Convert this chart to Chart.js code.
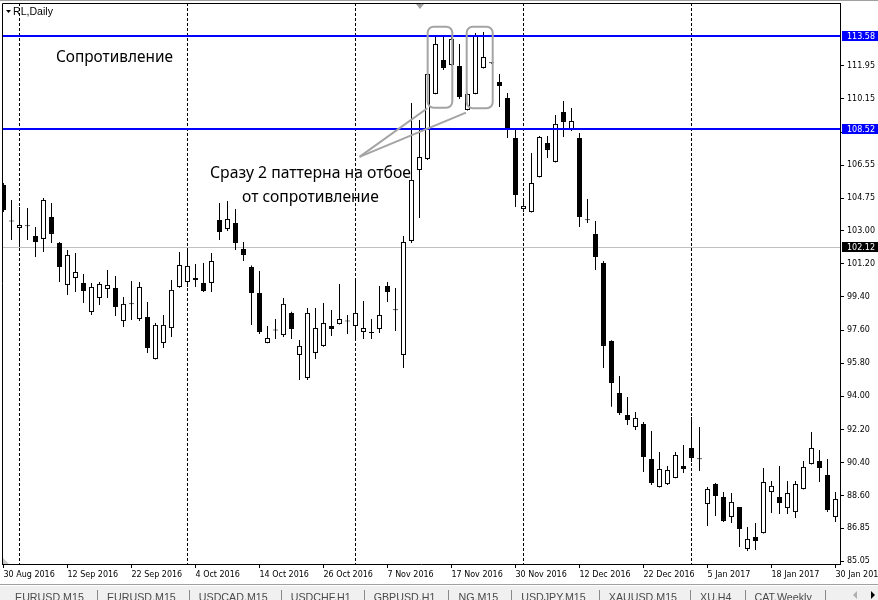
<!DOCTYPE html>
<html><head><meta charset="utf-8">
<script src="https://cdn.jsdelivr.net/npm/chart.js@4.4.1/dist/chart.umd.min.js"></script>
<style>html,body{margin:0;padding:0;background:#fff;overflow:hidden}canvas{display:block}</style>
</head><body>
<canvas id="c" width="878" height="600"></canvas>
<script>
// ---------- DATA ----------
const dates = [
"30 Aug 2016","31 Aug 2016","1 Sep 2016","2 Sep 2016","6 Sep 2016","7 Sep 2016","8 Sep 2016","9 Sep 2016",
"12 Sep 2016","13 Sep 2016","14 Sep 2016","15 Sep 2016","16 Sep 2016","19 Sep 2016","20 Sep 2016","21 Sep 2016",
"22 Sep 2016","23 Sep 2016","26 Sep 2016","27 Sep 2016","28 Sep 2016","29 Sep 2016","30 Sep 2016","3 Oct 2016",
"4 Oct 2016","5 Oct 2016","6 Oct 2016","7 Oct 2016","10 Oct 2016","11 Oct 2016","12 Oct 2016","13 Oct 2016",
"14 Oct 2016","17 Oct 2016","18 Oct 2016","19 Oct 2016","20 Oct 2016","21 Oct 2016","24 Oct 2016","25 Oct 2016",
"26 Oct 2016","27 Oct 2016","28 Oct 2016","31 Oct 2016","1 Nov 2016","2 Nov 2016","3 Nov 2016","4 Nov 2016",
"7 Nov 2016","8 Nov 2016","9 Nov 2016","10 Nov 2016","11 Nov 2016","14 Nov 2016","15 Nov 2016","16 Nov 2016",
"17 Nov 2016","18 Nov 2016","21 Nov 2016","22 Nov 2016","23 Nov 2016","25 Nov 2016","28 Nov 2016","29 Nov 2016",
"30 Nov 2016","1 Dec 2016","2 Dec 2016","5 Dec 2016","6 Dec 2016","7 Dec 2016","8 Dec 2016","9 Dec 2016",
"12 Dec 2016","13 Dec 2016","14 Dec 2016","15 Dec 2016","16 Dec 2016","19 Dec 2016","20 Dec 2016","21 Dec 2016",
"22 Dec 2016","23 Dec 2016","27 Dec 2016","28 Dec 2016","29 Dec 2016","30 Dec 2016","3 Jan 2017","4 Jan 2017",
"5 Jan 2017","6 Jan 2017","9 Jan 2017","10 Jan 2017","11 Jan 2017","12 Jan 2017","13 Jan 2017","17 Jan 2017",
"18 Jan 2017","19 Jan 2017","20 Jan 2017","23 Jan 2017","24 Jan 2017","25 Jan 2017","26 Jan 2017","27 Jan 2017",
"30 Jan 2017"];

const open = [
105.48,103.50,103.14,103.27,102.71,102.55,103.74,102.33,100.05,100.43,100.16,98.58,99.34,99.83,99.88,98.09,
99.00,98.20,98.31,96.03,96.90,97.71,99.94,100.21,100.43,100.16,100.16,103.58,103.09,103.41,102.00,101.02,
99.61,96.90,97.58,97.33,98.53,96.25,95.00,96.36,96.74,97.82,97.93,98.07,97.82,97.50,97.50,97.66,
99.99,98.67,96.25,102.44,106.29,106.89,110.42,112.26,111.99,111.94,109.55,110.42,111.83,112.10,111.07,110.20,
108.03,104.17,104.01,105.91,107.76,106.73,109.44,108.46,108.03,103.60,102.82,101.24,97.01,94.18,92.99,92.34,
92.50,90.60,89.08,89.24,89.57,90.22,91.20,90.60,88.16,89.24,88.54,87.45,87.99,85.72,86.37,86.58,
88.81,88.54,87.94,87.72,88.97,90.33,90.49,89.73,87.45];
const high = [
105.58,104.66,104.28,104.23,103.20,104.77,104.50,102.38,101.95,101.78,100.64,100.16,100.21,100.86,100.54,99.40,
100.27,100.21,99.12,97.98,98.42,100.32,101.84,102.06,101.19,101.24,101.78,104.50,104.61,104.17,102.38,101.10,
100.81,97.82,98.20,99.34,98.60,97.06,98.80,98.80,99.07,98.69,100.10,98.42,100.37,99.18,98.20,99.99,
100.21,99.88,102.71,109.93,109.00,111.55,113.57,113.57,113.57,113.13,110.45,113.73,113.78,112.12,111.50,110.47,
108.46,104.66,107.21,108.14,108.14,109.28,110.04,109.66,108.30,104.72,103.52,101.35,97.05,95.11,93.97,93.15,
92.61,92.12,90.98,90.22,90.98,91.36,92.88,92.34,89.08,89.30,88.81,88.75,88.00,86.91,87.13,90.11,
89.41,90.22,89.41,89.41,90.49,92.07,91.09,90.60,88.81];
const low = [
104.01,102.49,102.11,102.49,101.57,101.84,102.33,100.21,99.50,99.67,99.07,98.42,98.96,99.34,98.36,97.77,
98.15,98.09,96.36,96.00,96.63,97.22,99.90,99.94,99.94,99.67,99.67,102.49,102.98,101.95,101.35,97.88,
97.39,96.88,97.12,97.22,97.12,94.89,94.89,96.03,96.70,97.28,97.90,97.39,97.06,97.12,97.12,97.44,
99.12,97.55,95.54,102.33,103.68,106.83,110.40,111.72,111.95,110.15,109.52,110.40,111.80,112.06,109.71,108.03,
104.28,104.01,103.98,105.88,106.94,106.70,108.08,108.41,103.20,103.41,100.86,95.54,93.43,92.99,92.45,92.18,
89.90,89.19,89.05,89.19,89.55,89.84,90.44,89.95,86.96,87.51,87.18,87.13,85.82,85.61,85.66,86.55,
87.67,87.62,87.62,87.40,88.95,90.30,89.35,87.72,87.18];
const close = [
104.12,103.53,103.30,103.24,102.38,104.66,102.82,101.02,101.68,100.75,99.72,99.94,100.10,100.05,98.85,99.02,
99.04,99.94,96.63,97.88,97.88,99.78,101.13,101.08,100.32,99.72,101.35,102.92,103.63,102.33,101.68,99.61,
97.50,97.17,97.62,99.02,97.66,96.74,98.53,97.71,97.98,97.66,98.20,98.11,98.53,97.71,97.44,98.42,
99.67,98.71,102.38,105.75,106.99,111.50,113.13,111.83,113.40,110.25,110.42,113.57,112.42,112.08,110.85,108.57,
104.93,104.34,105.58,108.08,107.38,108.79,108.90,108.95,103.74,103.56,101.57,96.74,94.73,93.10,92.72,92.83,
90.71,89.30,90.06,90.00,90.82,90.06,90.66,90.58,88.97,88.59,87.24,88.27,86.80,86.26,86.15,89.35,
89.14,88.21,88.75,89.24,90.17,91.20,90.11,87.83,88.43];

const priceTicks = [111.95,110.15,108.35,106.55,104.75,103.00,101.20,99.40,97.60,95.80,94.00,92.20,90.40,88.60,86.85,85.05];
const dateTickIdx = [0,8,16,24,32,40,48,56,64,72,80,88,96,104];
const levels = [113.58, 108.52];
const lastPrice = 102.12;
const symbolTitle = "RL,Daily";
const tabs = ["EURUSD,M15","EURUSD,M15","USDCAD,M15","USDCHF,H1","GBPUSD,H1","NG,M15","USDJPY,M15","XAUUSD,M15","XU,H4","CAT,Weekly"];
const notes = [
  {text:"Сопротивление", idx:6.56, price:112.38, align:"left", width:117},
  {text:"Сразу 2 паттерна на отбое", idx:38.375, price:106.12, align:"center", width:201},
  {text:"от сопротивление", idx:38.375, price:104.82, align:"center", width:137}
];
const boxes = [
  {x0:53.02, x1:56.10, top:114.07, bottom:109.67},
  {x0:57.90, x1:61.15, top:114.07, bottom:109.64}
];
const pointers = [
  {from:[44.5,107.0], to:[52.975,109.64]},
  {from:[44.5,107.0], to:[57.81,109.40]}
];

// ---------- CHART ----------
const AXIS_FONT = "DejaVu Sans";
const wickData = dates.map((d,i)=>({x:i, y:[low[i], high[i]]}));
const bodyData = dates.map((d,i)=>({x:i, y:[open[i], close[i]]}));

function fitFont(ctx, text, family, target, weight){
  weight = weight || "";
  ctx.font = weight + " 40px " + family;
  const w = ctx.measureText(text).width;
  return weight + " " + (40*target/w).toFixed(2) + "px " + family;
}

const chrome = {
  id:"chrome",
  beforeDatasetsDraw(chart){
    const {ctx, chartArea:a, scales:{x, y}} = chart;
    ctx.save();
    ctx.strokeStyle = "#000"; ctx.lineWidth = 1; ctx.setLineDash([3,2]);
    for(let i=1;i<dates.length;i++){
      const m = dates[i].split(" ")[1], pm = dates[i-1].split(" ")[1];
      if(m!==pm){
        const px = Math.floor(x.getPixelForValue(i))+0.5;
        ctx.beginPath(); ctx.moveTo(px, a.top); ctx.lineTo(px, a.bottom); ctx.stroke();
      }
    }
    ctx.setLineDash([]);
    const py = Math.round(y.getPixelForValue(lastPrice))+0.5;
    ctx.strokeStyle = "#c0c0c0";
    ctx.beginPath(); ctx.moveTo(a.left, py); ctx.lineTo(a.right, py); ctx.stroke();
    ctx.restore();
  },
  afterDatasetsDraw(chart){
    const {ctx, chartArea:a, scales:{x, y}} = chart;
    ctx.save();
    ctx.beginPath(); ctx.rect(a.left, a.top, a.right-a.left, a.bottom-a.top); ctx.clip();
    ctx.fillStyle = "#0000ff";
    levels.forEach(v=>{
      const py = Math.round(y.getPixelForValue(v));
      ctx.fillRect(a.left, py-1, a.right-a.left, 2);
    });
    ctx.strokeStyle = "#a4a4a4"; ctx.lineWidth = 2;
    boxes.forEach(b=>{
      const x0 = x.getPixelForValue(b.x0), x1 = x.getPixelForValue(b.x1);
      const y0 = y.getPixelForValue(b.top), y1 = y.getPixelForValue(b.bottom);
      ctx.beginPath(); ctx.roundRect(x0, y0, x1-x0, y1-y0, 6); ctx.stroke();
    });
    pointers.forEach(p=>{
      ctx.beginPath();
      ctx.moveTo(x.getPixelForValue(p.from[0]), y.getPixelForValue(p.from[1]));
      ctx.lineTo(x.getPixelForValue(p.to[0]), y.getPixelForValue(p.to[1]));
      ctx.stroke();
    });
    ctx.fillStyle = "#000"; ctx.textBaseline = "middle";
    notes.forEach(n=>{
      ctx.font = fitFont(ctx, n.text, "'Noto Sans'", n.width);
      ctx.textAlign = n.align;
      ctx.fillText(n.text, x.getPixelForValue(n.idx), y.getPixelForValue(n.price));
    });
    ctx.restore();
  },
  afterDraw(chart){
    const {ctx, chartArea:a, scales:{y}} = chart;
    const W = chart.width, H = chart.height;
    ctx.save();
    ctx.strokeStyle = "#a0a0a0"; ctx.lineWidth = 1;
    ctx.beginPath(); ctx.moveTo(0, 0.5); ctx.lineTo(W, 0.5); ctx.stroke();
    ctx.strokeStyle = "#000";
    ctx.beginPath(); ctx.moveTo(a.left+0.5, a.bottom); ctx.lineTo(a.left+0.5, a.top+0.5); ctx.lineTo(a.right, a.top+0.5); ctx.stroke();
    ctx.fillStyle = "#a0a0a0";
    ctx.beginPath(); ctx.moveTo(416, a.top+1); ctx.lineTo(424, a.top+1); ctx.lineTo(420, a.top+6); ctx.closePath(); ctx.fill();
    ctx.fillStyle = "#c8c8c8";
    ctx.beginPath(); ctx.moveTo(a.left+1, a.bottom-6); ctx.lineTo(a.left+1, a.bottom); ctx.lineTo(a.left+7, a.bottom); ctx.closePath(); ctx.fill();
    ctx.fillStyle = "#000";
    ctx.beginPath(); ctx.moveTo(6, 10); ctx.lineTo(11, 10); ctx.lineTo(8.5, 13); ctx.closePath(); ctx.fill();
    ctx.font = fitFont(ctx, symbolTitle, "'Liberation Sans'", 40);
    ctx.textAlign = "left"; ctx.textBaseline = "middle";
    ctx.fillText(symbolTitle, 13, 12.5);
    ctx.font = "8px " + AXIS_FONT;
    const tag = (v, bg) => {
      const py = Math.round(y.getPixelForValue(v));
      ctx.fillStyle = bg; ctx.fillRect(a.right+2, py-5, W-a.right-2, 10);
      ctx.fillStyle = "#fff"; ctx.textBaseline = "middle"; ctx.textAlign = "left";
      ctx.fillText(v.toFixed(2), a.right+7, py+0.5);
    };
    levels.forEach(v=>tag(v, "#0000ff"));
    tag(lastPrice, "#000");
    ctx.fillStyle = "#a0a0a0"; ctx.fillRect(0, 584, W, 1);
    ctx.fillStyle = "#ffffff"; ctx.fillRect(0, 585, W, 1);
    ctx.fillStyle = "#f0f0f0"; ctx.fillRect(0, 586, W, H-586);
    ctx.font = fitFont(ctx, tabs[0], "'Liberation Sans'", 69);
    ctx.textBaseline = "alphabetic"; ctx.textAlign = "left";
    let tx = 15;
    tabs.forEach(t=>{
      ctx.fillStyle = "#4a4a4a";
      ctx.fillText(t, tx, 601);
      tx += ctx.measureText(t).width + 13;
      ctx.fillStyle = "#8a8a8a"; ctx.fillRect(Math.round(tx), 590, 1, 10);
      tx += 10;
    });
    ctx.fillStyle = "#b0b0b0";
    ctx.beginPath(); ctx.moveTo(857, 591); ctx.lineTo(857, 599); ctx.lineTo(853, 595); ctx.closePath(); ctx.fill();
    ctx.fillStyle = "#000";
    ctx.beginPath(); ctx.moveTo(871, 591); ctx.lineTo(871, 599); ctx.lineTo(875, 595); ctx.closePath(); ctx.fill();
    ctx.restore();
  }
};

new Chart(document.getElementById("c"), {
  type: "bar",
  data: { datasets: [
    { label:"wick", data:wickData, backgroundColor:"#000", borderWidth:0, barThickness:1, grouped:false, order:2, inflateAmount:0 },
    { label:"body", data:bodyData, borderColor:"#000", borderWidth:1, borderSkipped:false,
      barThickness:5, grouped:false, order:1, minBarLength:1, inflateAmount:0,
      backgroundColor: c => { const i = c.dataIndex; if(i===undefined) return "#fff"; return (close[i]-open[i] > 0.08) ? "#fff" : "#000"; } }
  ]},
  options: {
    responsive:false, animation:false, devicePixelRatio:1,
    layout:{padding:{left:2, top:3, right:0, bottom:0}},
    plugins:{legend:{display:false}, tooltip:{enabled:false}},
    scales:{
      x:{
        type:"linear", offset:false, min:-0.1875, max:104.5625, bounds:"data", position:"bottom",
        afterBuildTicks: s => { s.ticks = dateTickIdx.map(v=>({value:v})); },
        afterFit: s => { s.height = 36; s.paddingLeft = 0; s.paddingRight = 0; },
        border:{display:true, color:"#000", width:1},
        grid:{offset:false, drawOnChartArea:false, drawTicks:true, tickLength:4, color:"#000"},
        ticks:{autoSkip:false, maxRotation:0, minRotation:0, align:"start", padding:2, color:"#000",
               font:{family:AXIS_FONT, size:8}, callback: v => dates[v] || ""}
      },
      y:{
        position:"right", min:84.90, max:115.355, bounds:"data",
        afterBuildTicks: s => { s.ticks = priceTicks.map(v=>({value:v})); },
        afterFit: s => { s.width = 38; s.paddingTop = 0; s.paddingBottom = 0; },
        border:{display:true, color:"#000", width:1},
        grid:{drawOnChartArea:false, drawTicks:true, tickLength:4, color:"#000"},
        ticks:{autoSkip:false, padding:3, color:"#000", font:{family:AXIS_FONT, size:8}, callback: v => Number(v).toFixed(2)}
      }
    }
  },
  plugins:[chrome]
});
</script>
</body></html>
